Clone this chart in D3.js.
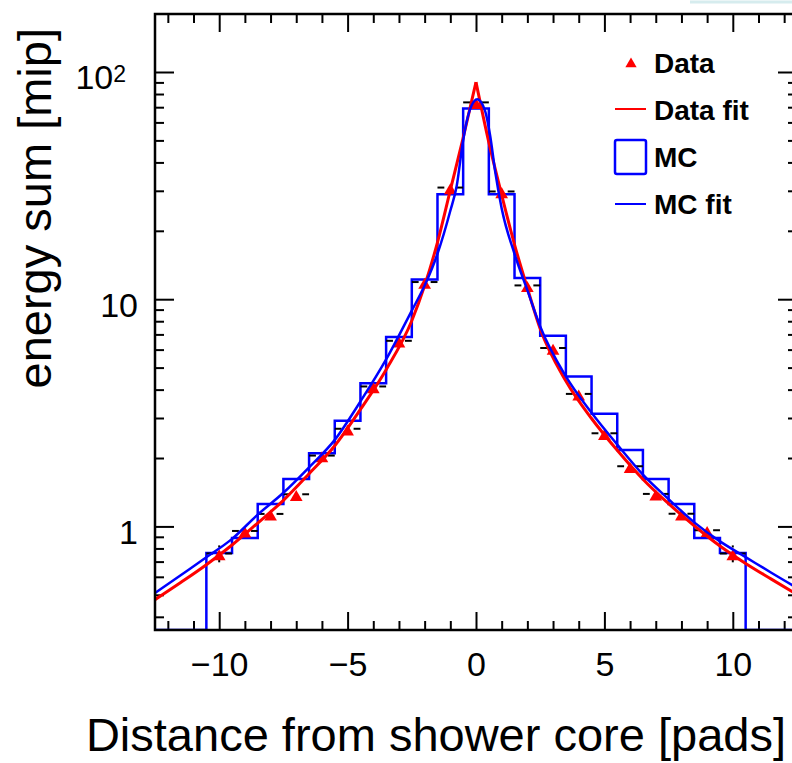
<!DOCTYPE html>
<html>
<head>
<meta charset="utf-8">
<script src="https://cdn.jsdelivr.net/npm/d3@7"></script>
<style>
  body { margin: 0; background: #fff; }
  svg { display: block; font-family: "Liberation Sans", Arial, Helvetica, sans-serif; }
</style>
</head>
<body>
<svg></svg>
<script>
// bins of 1 pad, centred on -10 .. 10
var binCenters = [-10, -9, -8, -7, -6, -5, -4, -3, -2, -1, 0, 1, 2, 3, 4, 5, 6, 7, 8, 9, 10];
var mcValues = [0.764, 0.889, 1.255, 1.616, 2.10, 2.92, 4.27, 6.82, 12.2, 29.0, 69.0,
                29.0, 12.4, 6.91, 4.57, 3.13, 2.17, 1.616, 1.255, 0.889, 0.764];
var dataValues = [0.76, 0.955, 1.135, 1.385, 2.05, 2.69, 4.13, 6.56, 11.9, 31.0, 73.5,
                  29.8, 11.5, 6.10, 3.83, 2.57, 1.84, 1.39, 1.137, 0.962, 0.76];
var dataErrors = [0.065, 0.03, 0.02, 0.02, 0.03, 0.03, 0.04, 0.06, 0.1, 0.2, 0.4,
                  0.2, 0.1, 0.06, 0.04, 0.03, 0.03, 0.02, 0.02, 0.03, 0.065];

// fit curves
var dataFitX = [-12.5, -11.5, -10.5, -9.5, -8.5, -7.5, -6.5, -5.5, -4.5, -3.5, -2.5, -2, -1.5, -1, -0.5, 0,
                0.5, 1, 1.5, 2, 2.5, 3.5, 4.5, 5.5, 6.5, 7.5, 8.5, 9.5, 10.5, 11.5, 12.5];
var dataFitY = [0.476, 0.566, 0.678, 0.828, 1.035, 1.303, 1.706, 2.265, 3.273, 4.898, 8.035, 11.48, 17.78, 30.2, 51.3, 90.2,
                49.0, 28.8, 17.4, 11.2, 7.41, 4.365, 2.985, 2.163, 1.614, 1.259, 1.007, 0.820, 0.687, 0.586, 0.501];
var mcFitX = [-12.5, -11.5, -10.5, -9.5, -8.5, -7.5, -6.5, -5.5, -4.5, -3.5, -2.5, -2, -1.5, -1, -0.75, -0.5, -0.25, 0.05,
              0.35, 0.55, 0.75, 1, 1.5, 2, 2.5, 3.5, 4.5, 5.5, 6.5, 7.5, 8.5, 9.5, 10.5, 11.5, 12.5];
var mcFitY = [0.509, 0.610, 0.731, 0.881, 1.127, 1.406, 1.820, 2.404, 3.548, 5.433, 8.913, 11.48, 15.85, 24.5, 31.6, 50.1, 67.6, 75.9,
              67.6, 52.5, 36.3, 25.1, 15.85, 10.96, 7.586, 4.571, 3.162, 2.291, 1.690, 1.318, 1.042, 0.859, 0.733, 0.625, 0.536];

var xMajorTicks = [-10, -5, 0, 5, 10];
var xMinorTicks = [-12, -11, -9, -8, -7, -6, -4, -3, -2, -1, 1, 2, 3, 4, 6, 7, 8, 9, 11, 12];
var yMajorTicks = [1, 10, 100];
var yMinorTicks = [0.4, 0.5, 0.6, 0.7, 0.8, 0.9, 2, 3, 4, 5, 6, 7, 8, 9, 20, 30, 40, 50, 60, 70, 80, 90];
var legendLabels = ['Data', 'Data fit', 'MC', 'MC fit'];

var width = 792;
var height = 763;
var plotLeft = 155, plotRight = 797, plotTop = 14, plotBottom = 630;

var x = d3.scaleLinear().domain([-12.5, 12.5]).range([plotLeft, plotRight]);
var y = d3.scaleLog().domain([0.35, 180]).range([plotBottom, plotTop]);

var svg = d3.select('svg')
    .attr('width', width)
    .attr('height', height);

svg.append('defs').append('clipPath')
    .attr('id', 'plot')
  .append('rect')
    .attr('x', plotLeft)
    .attr('y', plotTop)
    .attr('width', plotRight - plotLeft)
    .attr('height', plotBottom - plotTop);

// faint edge of the window the figure was cut from
svg.append('line')
    .attr('x1', 690).attr('x2', width)
    .attr('y1', 2).attr('y2', 2)
    .attr('stroke', '#d6ecee')
    .attr('stroke-width', 3);

// axes
function styleAxis(g) {
  g.select('.domain').remove();
  g.attr('font-size', null).attr('font-family', null);
  g.selectAll('.tick line').attr('stroke', 'black').attr('stroke-width', 2);
  g.selectAll('.tick text')
    .attr('fill', 'black')
    .style('font-size', '34px');
}

svg.append('g')
    .attr('transform', 'translate(0,' + plotBottom + ')')
    .call(d3.axisBottom(x).tickValues(xMajorTicks).tickSize(-18).tickPadding(22))
    .call(styleAxis);
svg.append('g')
    .attr('transform', 'translate(0,' + plotBottom + ')')
    .call(d3.axisBottom(x).tickValues(xMinorTicks).tickSize(-9).tickFormat(''))
    .call(styleAxis);
svg.append('g')
    .attr('transform', 'translate(0,' + plotTop + ')')
    .call(d3.axisTop(x).tickValues(xMajorTicks).tickSize(-18).tickFormat(''))
    .call(styleAxis);
svg.append('g')
    .attr('transform', 'translate(0,' + plotTop + ')')
    .call(d3.axisTop(x).tickValues(xMinorTicks).tickSize(-9).tickFormat(''))
    .call(styleAxis);

var yAxis = svg.append('g')
    .attr('transform', 'translate(' + plotLeft + ',0)')
    .call(d3.axisLeft(y).tickValues(yMajorTicks).tickSize(-19).tickPadding(17)
      .tickFormat(d => d === 100 ? '10' : String(d)))
    .call(styleAxis);
yAxis.selectAll('.tick text').attr('dy', '0.5em');
yAxis.selectAll('.tick text').filter(d => d === 100)
    .attr('x', -29)
  .append('tspan')
    .attr('dy', '-0.33em')
    .style('font-size', '23px')
    .text('2');

svg.append('g')
    .attr('transform', 'translate(' + plotLeft + ',0)')
    .call(d3.axisLeft(y).tickValues(yMinorTicks).tickSize(-9).tickFormat(''))
    .call(styleAxis);
svg.append('g')
    .attr('transform', 'translate(' + plotRight + ',0)')
    .call(d3.axisRight(y).tickValues(yMajorTicks).tickSize(-19).tickFormat(''))
    .call(styleAxis);
svg.append('g')
    .attr('transform', 'translate(' + plotRight + ',0)')
    .call(d3.axisRight(y).tickValues(yMinorTicks).tickSize(-9).tickFormat(''))
    .call(styleAxis);

var plot = svg.append('g').attr('clip-path', 'url(#plot)');

// MC histogram as a step outline
var steps = [[x.domain()[0], 0]];
binCenters.forEach(function(c, i) {
  steps.push([c - 0.5, mcValues[i]]);
});
steps.push([binCenters[binCenters.length - 1] + 0.5, 0]);
steps.push([x.domain()[1], 0]);

var stepLine = d3.line()
    .x(d => x(d[0]))
    .y(d => d[1] > 0 ? y(d[1]) : plotBottom)
    .curve(d3.curveStepAfter);

plot.append('path')
    .attr('d', stepLine(steps))
    .attr('fill', 'none')
    .attr('stroke', '#0000ff')
    .attr('stroke-width', 2.5);

// data error bars with a gap around the marker
var gap = 6;
var bars = plot.append('g').attr('stroke', 'black').attr('stroke-width', 2);
binCenters.forEach(function(c, i) {
  var cx = x(c), cy = y(dataValues[i]);
  bars.append('line').attr('x1', x(c - 0.5)).attr('x2', cx - gap).attr('y1', cy).attr('y2', cy);
  bars.append('line').attr('x1', cx + gap).attr('x2', x(c + 0.5)).attr('y1', cy).attr('y2', cy);
  var yTop = y(dataValues[i] + dataErrors[i]);
  var yBot = y(dataValues[i] - dataErrors[i]);
  if (cy - yTop > gap) bars.append('line').attr('x1', cx).attr('x2', cx).attr('y1', yTop).attr('y2', cy - gap);
  if (yBot - cy > gap) bars.append('line').attr('x1', cx).attr('x2', cx).attr('y1', cy + gap).attr('y2', yBot);
});

var triangle = d3.symbol().type(d3.symbolTriangle).size(70);
plot.selectAll('.marker')
    .data(binCenters)
    .enter()
  .append('path')
    .classed('marker', true)
    .attr('d', triangle)
    .attr('transform', (d, i) => 'translate(' + x(d) + ',' + (y(dataValues[i]) + 3) + ')')
    .attr('fill', '#ff0000');

// fits
var fitLine = d3.line()
    .x(d => x(d[0]))
    .y(d => y(d[1]))
    .curve(d3.curveMonotoneX);

var dataFit = dataFitX.map((v, i) => [v, dataFitY[i]]);
var peak = dataFitX.indexOf(0);
[dataFit.slice(0, peak + 1), dataFit.slice(peak)].forEach(function(part) {
  plot.append('path')
      .attr('d', fitLine(part))
      .attr('fill', 'none')
      .attr('stroke', '#ff0000')
      .attr('stroke-width', 3);
});

plot.append('path')
    .attr('d', fitLine(mcFitX.map((v, i) => [v, mcFitY[i]])))
    .attr('fill', 'none')
    .attr('stroke', '#0000ff')
    .attr('stroke-width', 2.5);

// frame
svg.append('rect')
    .attr('x', plotLeft)
    .attr('y', plotTop)
    .attr('width', plotRight - plotLeft)
    .attr('height', plotBottom - plotTop)
    .attr('fill', 'none')
    .attr('stroke', 'black')
    .attr('stroke-width', 2.5);

// titles
svg.append('text')
    .attr('x', 786)
    .attr('y', 751)
    .attr('text-anchor', 'end')
    .style('font-size', '47px')
    .text('Distance from shower core [pads]');

svg.append('text')
    .attr('transform', 'translate(51,28) rotate(-90)')
    .attr('text-anchor', 'end')
    .style('font-size', '47px')
    .text('energy sum [mip]');

// legend
var legend = svg.append('g');
var rowY = [63, 110, 157, 204];
legend.selectAll('.label')
    .data(legendLabels)
    .enter()
  .append('text')
    .classed('label', true)
    .attr('x', 654)
    .attr('y', (d, i) => rowY[i] + 10)
    .style('font-size', '28px')
    .style('font-weight', 'bold')
    .text(d => d);

legend.append('path')
    .attr('d', d3.symbol().type(d3.symbolTriangle).size(55)())
    .attr('transform', 'translate(631,' + (rowY[0] + 1) + ')')
    .attr('fill', '#ff0000');
legend.append('line')
    .attr('x1', 615).attr('x2', 646)
    .attr('y1', rowY[1] - 1).attr('y2', rowY[1] - 1)
    .attr('stroke', '#ff0000').attr('stroke-width', 2);
legend.append('rect')
    .attr('x', 615).attr('y', rowY[2] - 17)
    .attr('width', 31).attr('height', 34)
    .attr('rx', 2)
    .attr('fill', 'none')
    .attr('stroke', '#0000ff').attr('stroke-width', 2.5);
legend.append('line')
    .attr('x1', 615).attr('x2', 646)
    .attr('y1', rowY[3]).attr('y2', rowY[3])
    .attr('stroke', '#0000ff').attr('stroke-width', 2);
</script>
</body>
</html>
